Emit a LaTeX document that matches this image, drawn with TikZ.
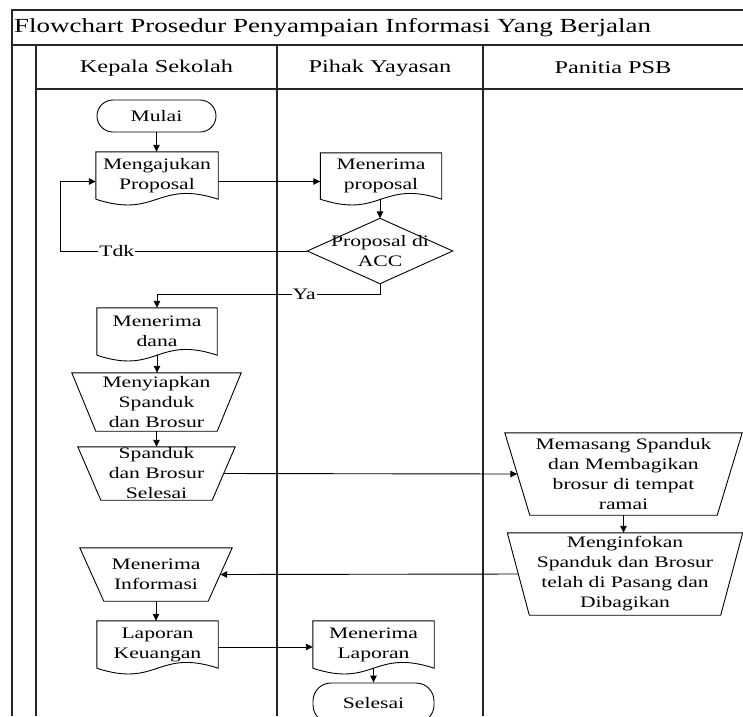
\documentclass[tikz,border=0pt]{standalone}
\usepackage{fontspec}
\setmainfont{Liberation Serif}[FakeStretch=1.35]
\usetikzlibrary{arrows.meta,calc}
\tikzset{
  frame/.style={line width=1.3pt, draw=black!85},
  shp/.style={line width=0.9pt, draw=black},
  arr/.style={line width=0.9pt, draw=black, -{Triangle[length=7pt,width=6.5pt]}},
  lnk/.style={line width=0.9pt, draw=black},
  txt/.style={font=\fontsize{16}{20}\selectfont, align=center, inner sep=0pt},
  box/.style={txt, minimum width=#1},
  term/.style={txt, draw, line width=0.9pt, rounded corners=16pt, minimum width=119pt, minimum height=32pt},
  lbl/.style={txt, fill=white, inner sep=1pt},
  hdr/.style={font=\fontsize{18}{22}\selectfont, inner sep=0pt},
  ttl/.style={font=\fontsize{20}{24}\selectfont, inner sep=0pt},
}
\newcommand\mydoc[1]{\draw[shp] (#1.south west) -- (#1.north west) -- (#1.north east) -- (#1.south east) .. controls ($(#1.south)+(0,-20)$) and ($(#1.south)+(0,20)$) .. (#1.south west);}
\newcommand\mymanop[2]{\draw[shp] (#1.north west) -- (#1.north east) -- ($(#1.south east)+(-#2,0)$) -- ($(#1.south west)+(#2,0)$) -- cycle;}
\newcommand\mydiamond[1]{\draw[shp] (#1.north) -- (#1.east) -- (#1.south) -- (#1.west) -- cycle;}
\begin{document}
\begin{tikzpicture}[x=1pt,y=-1pt]
\useasboundingbox (0,0) rectangle (743,716);
\fill[white] (0,0) rectangle (743,716);
% frame
\draw[frame] (12,716) -- (12,10) -- (743,10);
\draw[frame] (12,45) -- (743,45);
\draw[frame] (36,45) -- (36,716);
\draw[frame] (36,89) -- (743,89);
\draw[frame] (277,45) -- (277,716);
\draw[frame] (483,45) -- (483,716);
\node[ttl, anchor=west] (title) at (14,27.5) {Flowchart Prosedur Penyampaian Informasi Yang Berjalan};
\node[hdr] (h1) at (156.5,68) {Kepala Sekolah};
\node[hdr] (h2) at (380,68) {Pihak Yayasan};
\node[hdr] (h3) at (613,68) {Panitia PSB};
% nodes
\node[term] (mulai) at (156.5,116) {Mulai};
\node[box=122pt, minimum height=47pt] (ajukan) at (157,175.5) {Mengajukan\\Proposal};
\mydoc{ajukan}
\node[box=121pt, minimum height=46pt] (terimaprop) at (381,176) {Menerima\\proposal};
\mydoc{terimaprop}
\node[box=145pt, minimum height=65pt] (acc) at (380,251) {Proposal di\\ACC};
\mydiamond{acc}
\node[box=120pt, minimum height=47pt] (dana) at (157,331.5) {Menerima\\dana};
\mydoc{dana}
\node[box=169pt, minimum height=58pt] (siapkan) at (156.5,402) {Menyiapkan\\Spanduk\\dan Brosur};
\mymanop{siapkan}{24}
\node[box=157pt, minimum height=53pt] (selesaisb) at (156.5,473.5) {Spanduk\\dan Brosur\\Selesai};
\mymanop{selesaisb}{23}
\node[box=237pt, minimum height=82pt] (memasang) at (623.5,474) {Memasang Spanduk\\dan Membagikan\\brosur di tempat\\ramai};
\mymanop{memasang}{25}
\node[box=235pt, minimum height=82pt] (infokan) at (625,574) {Menginfokan\\Spanduk dan Brosur\\telah di Pasang dan\\Dibagikan};
\mymanop{infokan}{22}
\node[box=152pt, minimum height=53pt] (terimainfo) at (156,574.5) {Menerima\\Informasi};
\mymanop{terimainfo}{24}
\node[box=121pt, minimum height=47pt] (laporan) at (157.5,644.5) {Laporan\\Keuangan};
\mydoc{laporan}
\node[box=121pt, minimum height=47pt] (terimalap) at (373.5,644.5) {Menerima\\Laporan};
\mydoc{terimalap}
\node[term, minimum width=121pt, minimum height=40pt, rounded corners=18pt] (selesai) at (373.5,703) {Selesai};
% connectors
\coordinate (loopx) at (60,251);
\coordinate (yac) at (157,294);
\draw[arr] (mulai.south) -- (mulai.south |- ajukan.north);
\draw[arr] ([shift={(0,6)}]ajukan.east) -- ([shift={(0,6)}]ajukan.east -| terimaprop.west);
\draw[arr] (terimaprop.south -| acc.north) -- (acc.north);
\draw[arr] (acc.west) -- node[lbl,pos=0.77]{Tdk} (loopx) |- ([shift={(0,6)}]ajukan.west);
\draw[arr] (acc.south) |- node[lbl,pos=0.67]{Ya} (yac) -- (dana.north);
\draw[arr] (dana.south) -- (dana.south |- siapkan.north);
\draw[arr] (siapkan.south) -- (siapkan.south |- selesaisb.north);
\draw[arr] ([shift={(-11.5,0)}]selesaisb.east) -- ([shift={(12.5,0)}]memasang.west);
\draw[arr] (memasang.south) -- (memasang.south |- infokan.north);
\draw[arr] ([shift={(11,0)}]infokan.west) -- ([shift={(-12,0)}]terimainfo.east);
\draw[arr] (terimainfo.south) -- (terimainfo.south |- laporan.north);
\draw[arr] ([shift={(0,2.5)}]laporan.east) -- ([shift={(0,2.5)}]laporan.east -| terimalap.west);
\draw[arr] (terimalap.south) -- (selesai.north);
\end{tikzpicture}
\end{document}
